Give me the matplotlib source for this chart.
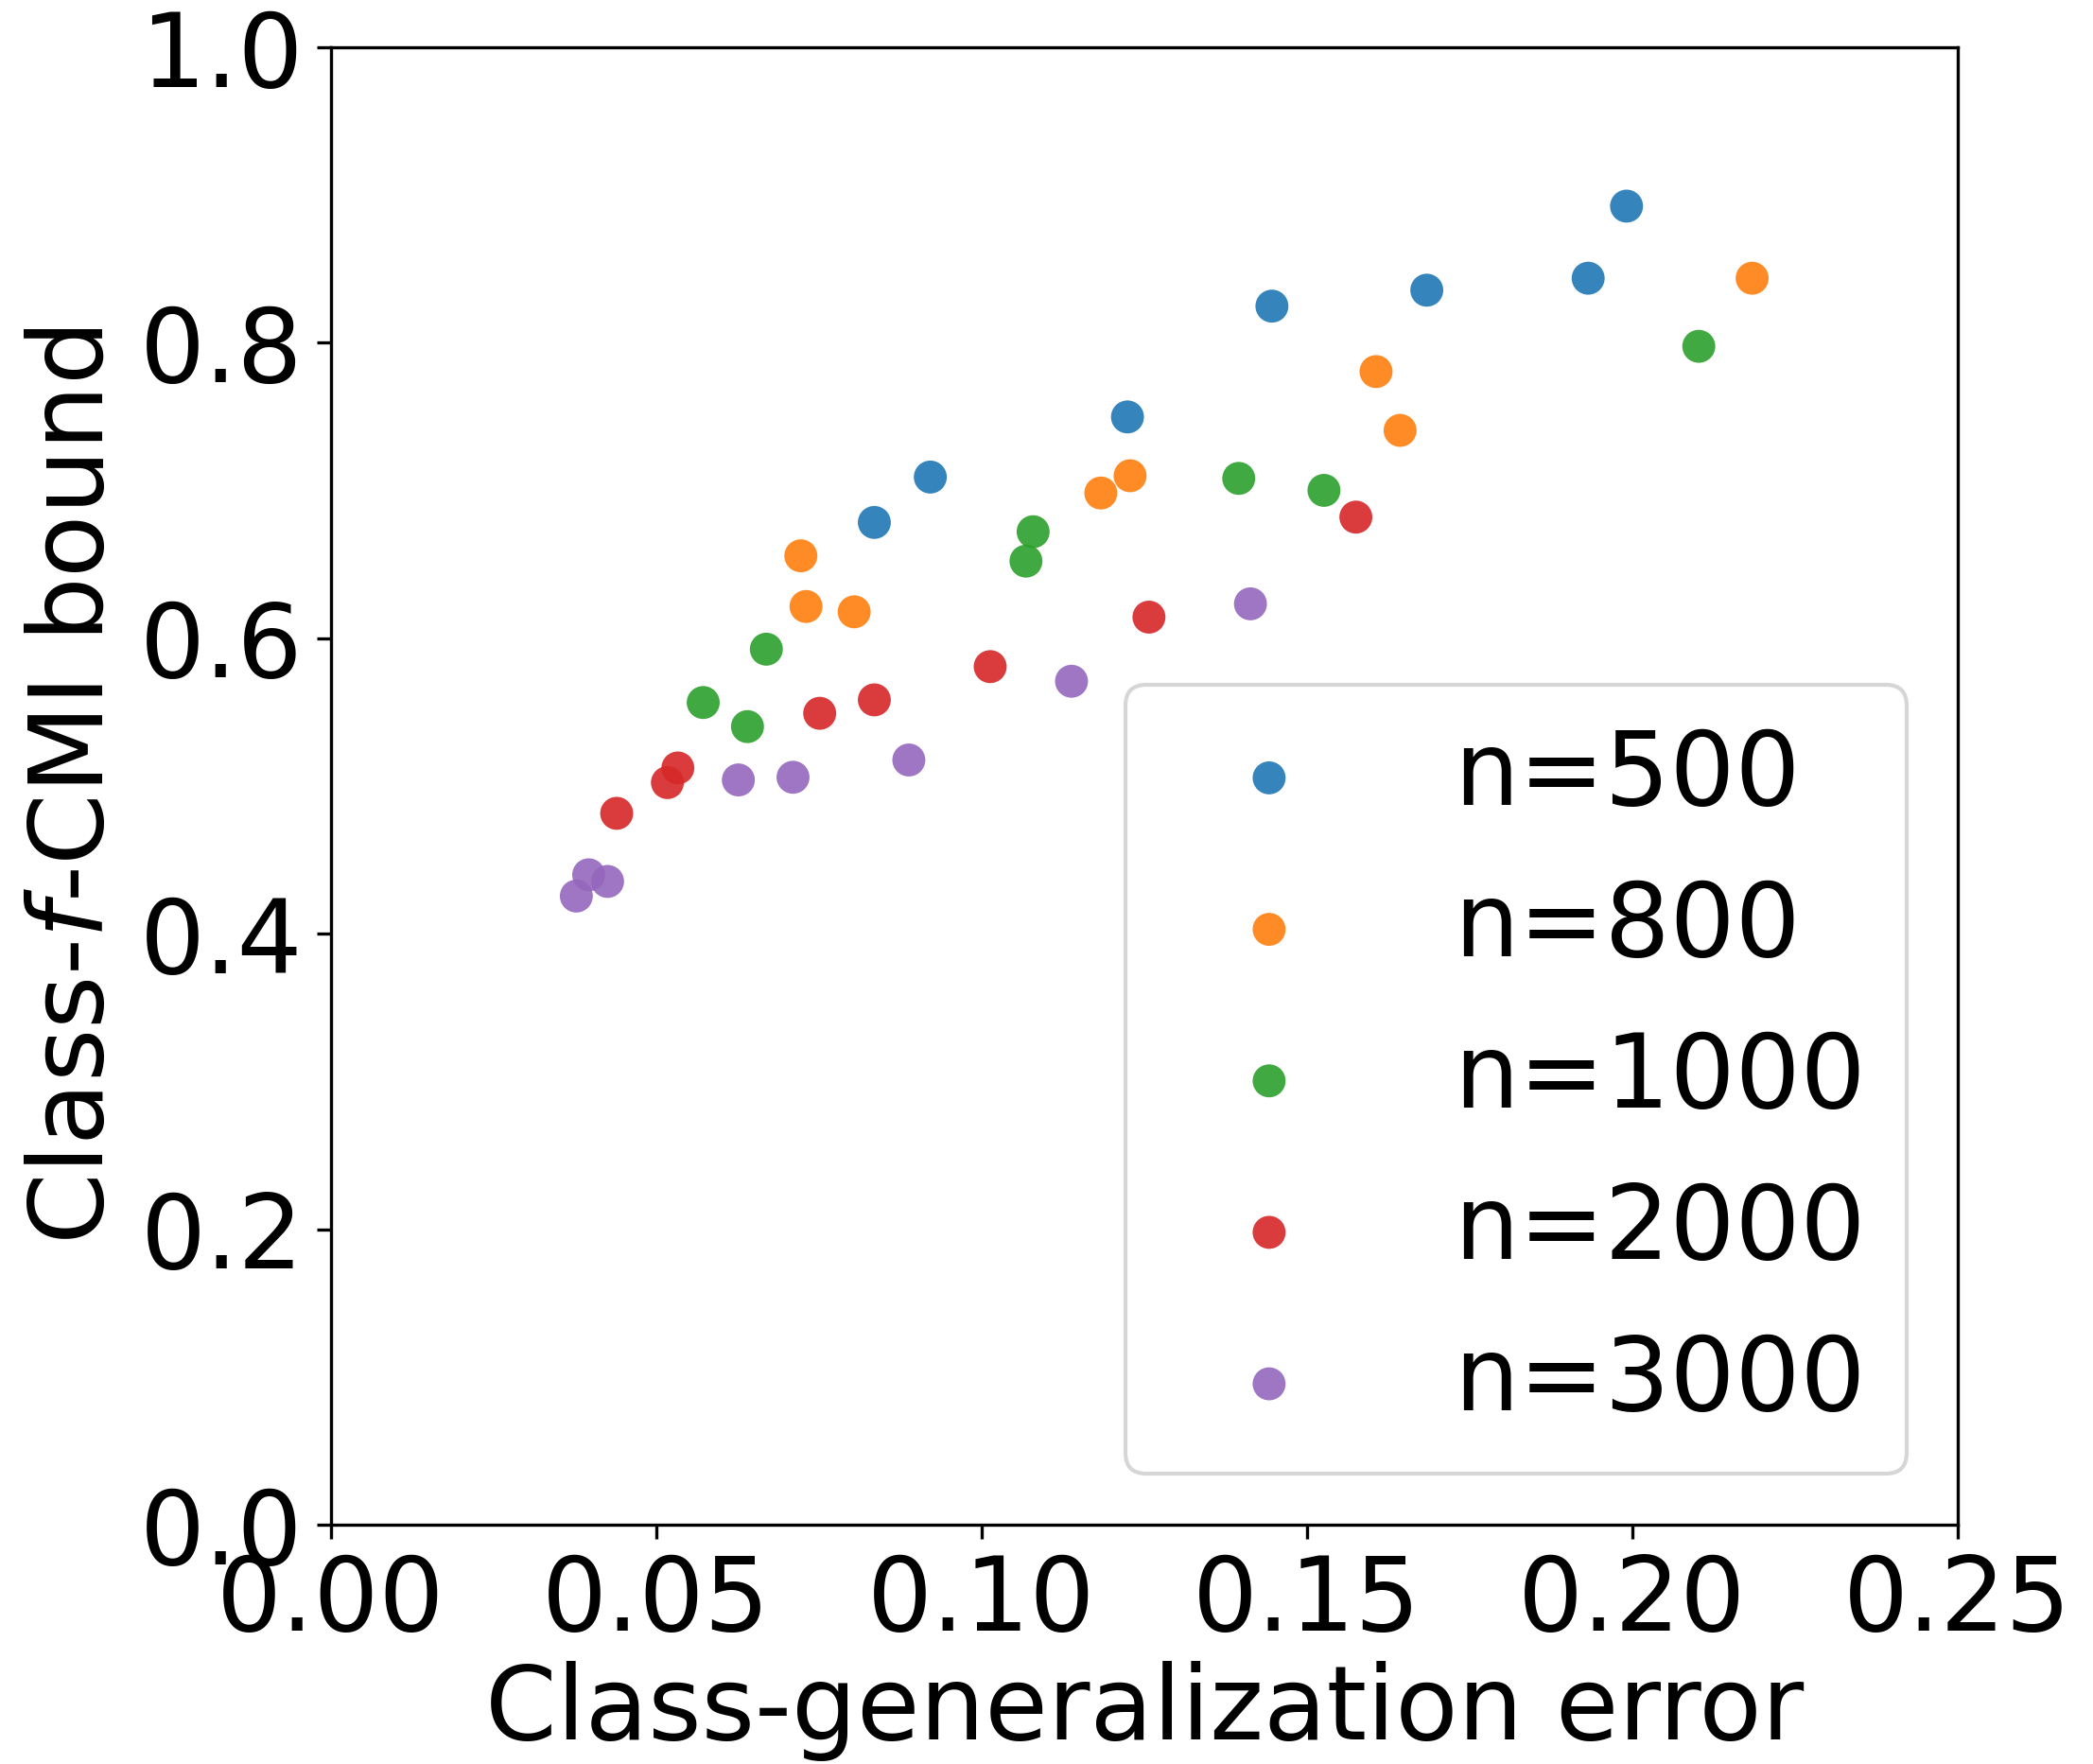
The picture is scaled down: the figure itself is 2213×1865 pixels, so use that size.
import numpy as np
import matplotlib
matplotlib.use('Agg')
from matplotlib import pyplot as plt

# 数据：每组 n 对应的 (泛化误差, 上界)
labels = ['n=500', 'n=800', 'n=1000', 'n=2000', 'n=3000']

err_500 = [0.1446, 0.1684, 0.1932, 0.1991, 0.1224, 0.0921, 0.0835]
bound_500 = [0.8248, 0.8356, 0.8437, 0.8925, 0.7498, 0.7091, 0.6784]

err_800 = [0.2184, 0.1606, 0.1643, 0.1228, 0.1183, 0.0722, 0.0730, 0.0804]
bound_800 = [0.8437, 0.7805, 0.7407, 0.7100, 0.6983, 0.6558, 0.6215, 0.6179]

err_1000 = [0.2102, 0.1395, 0.1526, 0.1079, 0.1068, 0.0669, 0.0572, 0.0640]
bound_1000 = [0.7976, 0.7082, 0.7001, 0.6721, 0.6522, 0.5926, 0.5565, 0.5402]

err_2000 = [0.1575, 0.1257, 0.1013, 0.0835, 0.0751, 0.0533, 0.0517, 0.0439]
bound_2000 = [0.6820, 0.6143, 0.5808, 0.5583, 0.5492, 0.5122, 0.5023, 0.4815]

err_3000 = [0.1413, 0.1138, 0.0888, 0.0710, 0.0626, 0.0396, 0.0425, 0.0377]
bound_3000 = [0.6233, 0.5709, 0.5176, 0.5059, 0.5041, 0.4399, 0.4354, 0.4255]

errs = [err_500, err_800, err_1000, err_2000, err_3000]
bounds = [bound_500, bound_800, bound_1000, bound_2000, bound_3000]

plt.rcParams['font.size'] = 26

fig = plt.figure(figsize=(2213/300, 1865/300), dpi=300)
ax = fig.add_axes([350/2213, 1 - 1612/1865, 1720/2213, 1562/1865])

for e, b, lab in zip(errs, bounds, labels):
    ax.scatter(e, b, s=70, alpha=0.9, label=lab, edgecolors='none')

ax.set_xlim(0, 0.25)
ax.set_ylim(0, 1.0)
ax.set_xticks(np.arange(0, 0.26, 0.05))
ax.set_yticks(np.arange(0, 1.01, 0.2))
ax.set_xlabel('Class-generalization error', labelpad=2)
ax.set_ylabel('Class-$f$-CMI bound')
ax.legend(loc='lower right')

fig.savefig('out.png', dpi=300)
